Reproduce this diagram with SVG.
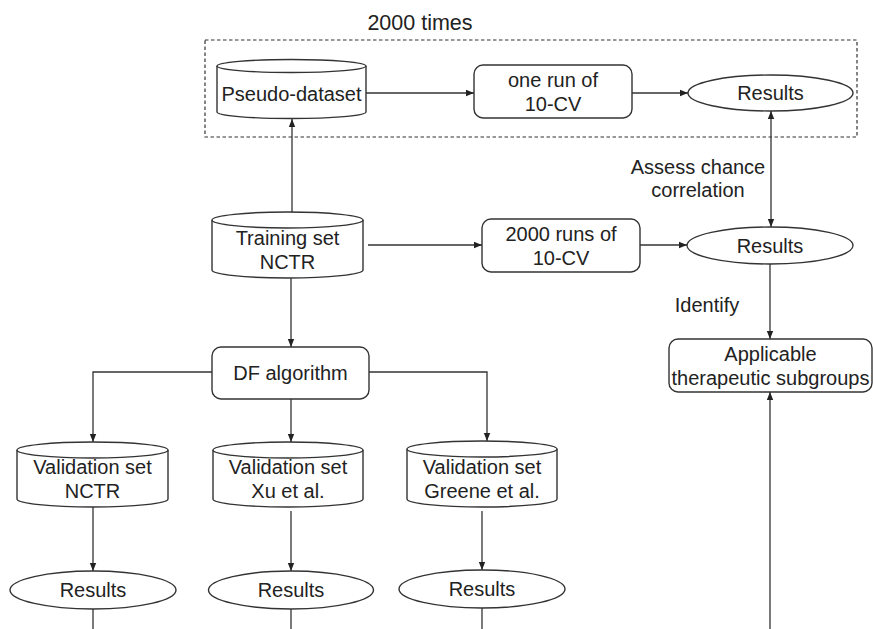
<svg xmlns="http://www.w3.org/2000/svg" width="873" height="629" viewBox="0 0 873 629">
<style>
text{font-family:"Liberation Sans",Arial,sans-serif;font-size:20px;fill:#222;text-anchor:middle}
.s{fill:#fff;stroke:#333;stroke-width:1.4}
.c{fill:none;stroke:#333;stroke-width:1.3}
.d{fill:none;stroke:#333;stroke-width:1.2;stroke-dasharray:3.5 2.5}
</style>
<defs>
<marker id="a" viewBox="0 0 10 10" refX="10" refY="5" markerWidth="8" markerHeight="8" markerUnits="userSpaceOnUse" orient="auto-start-reverse">
<path d="M0,1 L10,5 L0,9 z" fill="#222"/>
</marker>
</defs>
<rect width="873" height="629" fill="#fff"/>
<g id="loop">
<rect class="d" x="205" y="40" width="652" height="97"/>
<text x="420" y="30" style="font-size:21.5px">2000 times</text>
</g>
<g id="pseudo">
<path class="s" d="M217,66 L217,112 A74.5,6.5 0 0 0 366,112 L366,66"/>
<ellipse class="s" cx="291.5" cy="66" rx="74.5" ry="6.5"/>
<text x="291.5" y="101">Pseudo-dataset</text>
</g>
<g id="onerun">
<rect class="s" x="474" y="65" width="158" height="53" rx="9"/>
<text x="553" y="87">one run of</text>
<text x="553" y="111">10-CV</text>
</g>
<g id="results1">
<ellipse class="s" cx="770.5" cy="93" rx="82.5" ry="18"/>
<text x="770.5" y="100">Results</text>
</g>
<g id="training">
<path class="s" d="M212,220 L212,270 A75.5,8 0 0 0 363,270 L363,220"/>
<ellipse class="s" cx="287.5" cy="220" rx="75.5" ry="8"/>
<text x="287.5" y="245">Training set</text>
<text x="287.5" y="269">NCTR</text>
</g>
<g id="runs2000">
<rect class="s" x="482" y="219" width="158" height="53" rx="9"/>
<text x="561" y="241">2000 runs of</text>
<text x="561" y="265">10-CV</text>
</g>
<g id="results2">
<ellipse class="s" cx="770" cy="245.5" rx="83" ry="18.5"/>
<text x="770" y="252.5">Results</text>
</g>
<g id="applicable">
<rect class="s" x="669" y="339" width="203" height="53" rx="9"/>
<text x="770.5" y="361">Applicable</text>
<text x="770.5" y="385">therapeutic subgroups</text>
</g>
<g id="df">
<rect class="s" x="212" y="347" width="157" height="52" rx="9"/>
<text x="290.5" y="380">DF algorithm</text>
</g>
<g id="val1">
<path class="s" d="M17,450 L17,499 A75.5,8 0 0 0 168,499 L168,450"/>
<ellipse class="s" cx="92.5" cy="450" rx="75.5" ry="8"/>
<text x="92.5" y="474">Validation set</text>
<text x="92.5" y="498">NCTR</text>
</g>
<g id="val2">
<path class="s" d="M213,450 L213,499 A75,8 0 0 0 363,499 L363,450"/>
<ellipse class="s" cx="288" cy="450" rx="75" ry="8"/>
<text x="288" y="474">Validation set</text>
<text x="288" y="498">Xu et al.</text>
</g>
<g id="val3">
<path class="s" d="M407,449 L407,499 A75,8 0 0 0 557,499 L557,449"/>
<ellipse class="s" cx="482" cy="449" rx="75" ry="8"/>
<text x="482" y="474">Validation set</text>
<text x="482" y="498">Greene et al.</text>
</g>
<g id="res3a">
<ellipse class="s" cx="93" cy="590" rx="83" ry="19"/>
<text x="93" y="597">Results</text>
</g>
<g id="res3b">
<ellipse class="s" cx="291" cy="590" rx="82.5" ry="19"/>
<text x="291" y="597">Results</text>
</g>
<g id="res3c">
<ellipse class="s" cx="482" cy="589" rx="83" ry="19"/>
<text x="482" y="596">Results</text>
</g>
<g id="labels">
<text x="698" y="174">Assess chance</text>
<text x="698" y="197">correlation</text>
<text x="707" y="312">Identify</text>
</g>
<g id="connectors">
<line class="c" x1="366" y1="93" x2="474" y2="93" marker-end="url(#a)"/>
<line class="c" x1="632" y1="93" x2="688" y2="93" marker-end="url(#a)"/>
<line class="c" x1="771" y1="111" x2="771" y2="227" marker-start="url(#a)" marker-end="url(#a)"/>
<line class="c" x1="292" y1="212" x2="292" y2="119" marker-end="url(#a)"/>
<line class="c" x1="368" y1="245" x2="482" y2="245" marker-end="url(#a)"/>
<line class="c" x1="640" y1="245" x2="687" y2="245" marker-end="url(#a)"/>
<line class="c" x1="770" y1="264" x2="770" y2="339" marker-end="url(#a)"/>
<line class="c" x1="770" y1="629" x2="770" y2="392" marker-end="url(#a)"/>
<line class="c" x1="291" y1="278" x2="291" y2="347" marker-end="url(#a)"/>
<polyline class="c" points="212,372 93,372 93,442" marker-end="url(#a)"/>
<polyline class="c" points="369,372 487,372 487,441" marker-end="url(#a)"/>
<line class="c" x1="291" y1="399" x2="291" y2="442" marker-end="url(#a)"/>
<line class="c" x1="93" y1="507" x2="93" y2="571" marker-end="url(#a)"/>
<line class="c" x1="291" y1="511" x2="291" y2="571" marker-end="url(#a)"/>
<line class="c" x1="482" y1="511" x2="482" y2="570" marker-end="url(#a)"/>
<line class="c" x1="93" y1="609" x2="93" y2="629"/>
<line class="c" x1="291" y1="609" x2="291" y2="629"/>
<line class="c" x1="482" y1="608" x2="482" y2="629"/>
</g>
</svg>
